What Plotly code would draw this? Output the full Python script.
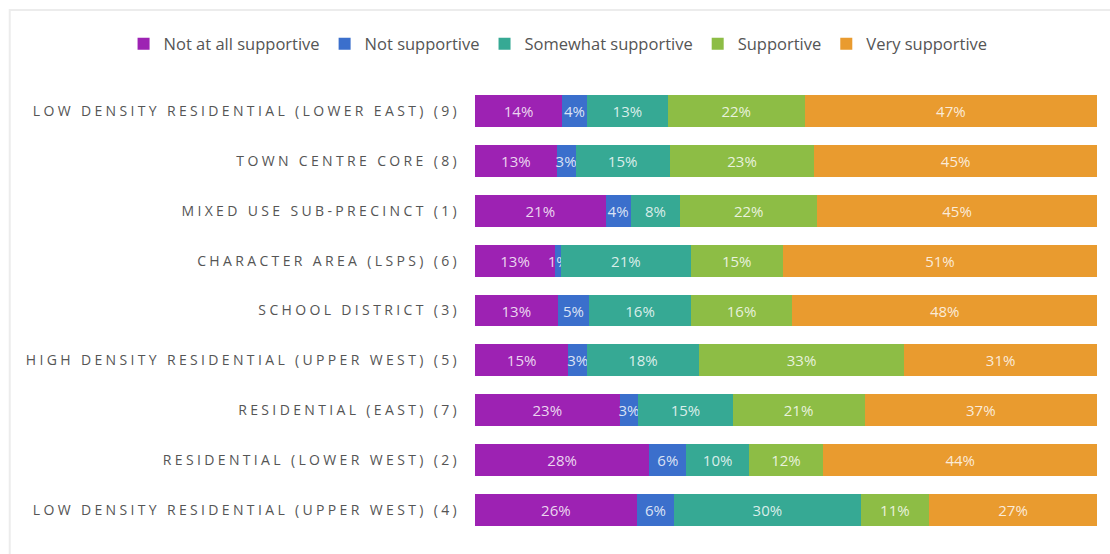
import plotly.graph_objects as go

# Precincts, top to bottom
precincts = [
    "LOW DENSITY RESIDENTIAL (LOWER EAST) (9)",
    "TOWN CENTRE CORE (8)",
    "MIXED USE SUB-PRECINCT (1)",
    "CHARACTER AREA (LSPS) (6)",
    "SCHOOL DISTRICT (3)",
    "HIGH DENSITY RESIDENTIAL (UPPER WEST) (5)",
    "RESIDENTIAL (EAST) (7)",
    "RESIDENTIAL (LOWER WEST) (2)",
    "LOW DENSITY RESIDENTIAL (UPPER WEST) (4)",
]

# Share of responses (%) per support level
not_at_all = [14, 13, 21, 13, 13, 15, 23, 28, 26]
not_supportive = [4, 3, 4, 1, 5, 3, 3, 6, 6]
somewhat = [13, 15, 8, 21, 16, 18, 15, 10, 30]
supportive = [22, 23, 22, 15, 16, 33, 21, 12, 11]
very = [47, 45, 45, 51, 48, 31, 37, 44, 27]

series = [
    ("Not at all supportive", not_at_all, "#9d22b3"),
    ("Not supportive", not_supportive, "#3b6fcc"),
    ("Somewhat supportive", somewhat, "#36a994"),
    ("Supportive", supportive, "#8dbd45"),
    ("Very supportive", very, "#e99b2f"),
]

fig = go.Figure()
for name, vals, color in series:
    fig.add_trace(go.Bar(
        y=precincts,
        x=vals,
        name=name,
        orientation="h",
        marker=dict(color=color, line=dict(width=0)),
        text=[f"{v}%" for v in vals],
        textposition="inside",
        insidetextanchor="middle",
        constraintext="none",
        textangle=0,
        textfont=dict(family="Open Sans", size=15, color="rgba(255,255,255,0.82)"),
        cliponaxis=False,
    ))

# light card outline
fig.add_shape(type="rect", xref="paper", yref="paper",
              x0=-0.748, x1=1.03, y0=-0.06, y1=1.169,
              line=dict(color="#ececec", width=2), fillcolor="rgba(0,0,0,0)",
              layer="below")

fig.update_layout(
    width=1110,
    height=554,
    barmode="stack",
    barnorm="percent",
    bargap=0.36,
    plot_bgcolor="white",
    paper_bgcolor="white",
    margin=dict(l=475, r=13, t=86, b=19),
    legend=dict(
        orientation="h",
        x=-0.565, y=1.0935,
        xanchor="left", yanchor="middle",
        font=dict(family="Open Sans", size=16.5, color="#555555"),
        traceorder="normal",
        itemclick=False,
    ),
    xaxis=dict(visible=False, range=[0, 100], fixedrange=True),
    yaxis=dict(
        autorange="reversed",
        showgrid=False,
        showline=False,
        ticks="",
        ticklabelstandoff=14,
        tickfont=dict(family="Open Sans", size=14, color="#555555"),
        fixedrange=True,
    ),
)

# widen tracking of the precinct names
post = """
var st = document.createElement('style');
st.innerHTML = '.ytick text { letter-spacing: 3.35px; }';
document.head.appendChild(st);
"""

fig.write_html("out.html", post_script=post, config={"displayModeBar": False})
